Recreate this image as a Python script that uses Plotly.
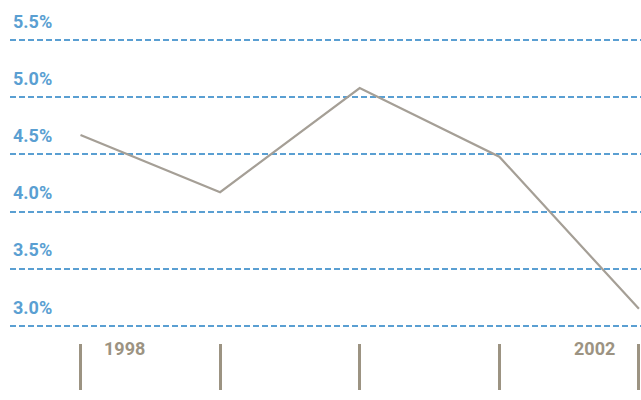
import plotly.graph_objects as go

years = ["1998", "1999", "2000", "2001", "2002"]
values = [4.67, 4.17, 5.08, 4.48, 3.15]
y_ticks = [3.0, 3.5, 4.0, 4.5, 5.0, 5.5]
y_tick_labels = ["3.0%", "3.5%", "4.0%", "4.5%", "5.0%", "5.5%"]
shown_years = {"1998": "left", "2002": "right"}

BLUE = "#5a9fd2"
GREY_LINE = "#a59f96"
GREY_TICK = "#9c9382"
FONT = "Roboto"

xs = list(range(len(years)))

fig = go.Figure()
fig.add_trace(go.Scatter(
    x=xs, y=values, mode="lines",
    line=dict(color=GREY_LINE, width=2.2),
    hoverinfo="skip", showlegend=False,
))

annotations = []
for v, lab in zip(y_ticks, y_tick_labels):
    annotations.append(dict(
        x=0, xref="paper", y=v, yref="y", text=f"<b>{lab}</b>",
        showarrow=False, xanchor="left", yanchor="middle",
        xshift=1, yshift=19,
        font=dict(family=FONT, size=18, color=BLUE),
    ))
for i, yr in enumerate(years):
    if yr in shown_years:
        side = shown_years[yr]
        annotations.append(dict(
            x=i, xref="x", y=0, yref="paper", text=f"<b>{yr}</b>",
            showarrow=False, xanchor=side, yanchor="top",
            xshift=21 if side == "left" else -22, yshift=7,
            font=dict(family=FONT, size=18, color=GREY_TICK),
        ))

fig.update_layout(
    width=641, height=400,
    margin=dict(l=10, r=0, t=0, b=57),
    paper_bgcolor="white", plot_bgcolor="white",
    xaxis=dict(
        range=[-0.505, 4.015], showgrid=False, zeroline=False,
        showline=False, tickmode="array", tickvals=xs, ticktext=[""] * len(xs),
        ticks="outside", ticklen=46, tickwidth=3, tickcolor=GREY_TICK,
        fixedrange=True,
    ),
    yaxis=dict(
        range=[2.8514, 5.8497], tickmode="array", tickvals=y_ticks,
        showticklabels=False, showgrid=True, gridcolor=BLUE, gridwidth=2,
        griddash="6px,3px", zeroline=False, showline=False, ticks="",
        fixedrange=True,
    ),
    annotations=annotations,
)

fig.write_html(
    "out.html",
    config={"displayModeBar": False},
    post_script="document.body.style.margin='0';document.body.style.overflow='hidden';",
)
